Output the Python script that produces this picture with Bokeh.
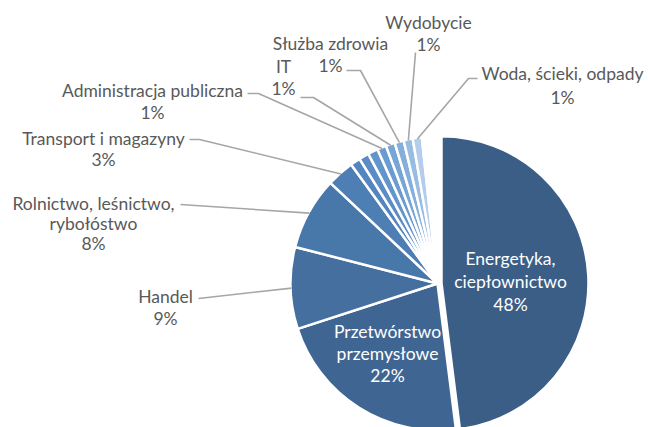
import math
from bokeh.plotting import figure
from bokeh.models import Range1d
from bokeh.core.properties import value
from bokeh.embed import file_html
from bokeh.resources import INLINE

# ---------------- data ----------------
categories = [
    "Energetyka,\nciepłownictwo",
    "Przetwórstwo\nprzemysłowe",
    "Handel",
    "Rolnictwo, leśnictwo,\nrybołóstwo",
    "Transport i magazyny",
    "", "", "",
    "Administracja publiczna",
    "IT",
    "Służba zdrowia",
    "Wydobycie",
    "Woda, ścieki, odpady",
    "",
]
shares = [48, 22, 9, 8, 3, 1.1, 1.1, 1.1, 1.0, 1.0, 1.0, 1.0, 1.0, 1.7]
pct_labels = ["48%", "22%", "9%", "8%", "3%", None, None, None,
              "1%", "1%", "1%", "1%", "1%", None]
colors = ["#3b5e86", "#3f6692", "#446f9f", "#4877aa", "#4d7fb5",
          "#5386c0", "#5a8dc6", "#6295cb", "#6b9ccf", "#77a5d4",
          "#85afda", "#98bce2", "#b4cdea", "#ffffff"]

# ---------------- layout (screen pixel coords, y downward) ----------------
W, H = 648, 427
def Y(sy):
    return H - sy

CX, CY = 437, 283
R = 147
EXPLODE = {0: 4}

label_pos = {
    0: dict(x=510, y=281, inside=True, lh=23),
    1: dict(x=387, y=353, inside=True, lh=22),
    2: dict(x=165, y=307, lh=22, lead=[(198, 298)]),
    3: dict(x=93, y=223, lh=20, lead=[(180, 204)]),
    4: dict(x=103, y=148, lh=21, lead=[(189, 139), (199, 139)]),
    8: dict(x=152, y=101, lh=22, lead=[(247, 93), (258, 93)]),
    9: dict(x=283, y=77, lh=22, lead=[(300, 97), (313, 97)]),
    10: dict(x=330, y=54, lh=22, lead=[(346, 70), (360, 70)]),
    11: dict(x=428, y=33, lh=22, lead=[(415, 52)]),
    12: dict(x=562, y=85, lh=24, lead=[(477, 78), (468, 78)]),
}

p = figure(width=W, height=H, output_backend="svg", toolbar_location=None,
           x_range=Range1d(0, W), y_range=Range1d(0, H),
           x_axis_type=None, y_axis_type=None, min_border=0,
           min_border_left=0, min_border_right=0, min_border_top=0, min_border_bottom=0)
p.outline_line_color = None
p.background_fill_color = "white"
p.border_fill_color = "white"

total = sum(shares)
theta = 0.0
mids = []
for i, s in enumerate(shares):
    a0 = theta
    a1 = theta + s / total * 360.0
    theta = a1
    mid = (a0 + a1) / 2
    mids.append(mid)
    off = EXPLODE.get(i, 0)
    mrad = math.radians(90 - mid)
    cx = CX + off * math.cos(mrad)
    cy = CY - off * math.sin(mrad)
    p.wedge(x=[cx], y=[Y(cy)], radius=R,
            start_angle=[math.radians(90 - a1)], end_angle=[math.radians(90 - a0)],
            direction="anticlock", fill_color=colors[i],
            line_color="white", line_width=2.5)

FONT = value("Lato")
FS = "17.5px"
for i, lp in label_pos.items():
    lines = categories[i].split("\n") + [pct_labels[i]]
    n = len(lines)
    col = "white" if lp.get("inside") else "#595959"
    ys = [lp["y"] + (k - (n - 1) / 2) * lp["lh"] for k in range(n)]
    p.text(x=[lp["x"]] * n, y=[Y(v) for v in ys], text=lines,
           text_align="center", text_baseline="middle",
           text_font=FONT, text_font_size=FS, text_color=col)
    if "lead" in lp:
        mrad = math.radians(90 - mids[i])
        ex = CX + (R - 1) * math.cos(mrad)
        ey = CY - (R - 1) * math.sin(mrad)
        pts = lp["lead"] + [(ex, ey)]
        p.line(x=[q[0] for q in pts], y=[Y(q[1]) for q in pts],
               line_color="#a6a6a6", line_width=1.6)

open("out.html", "w").write(file_html(p, INLINE))
